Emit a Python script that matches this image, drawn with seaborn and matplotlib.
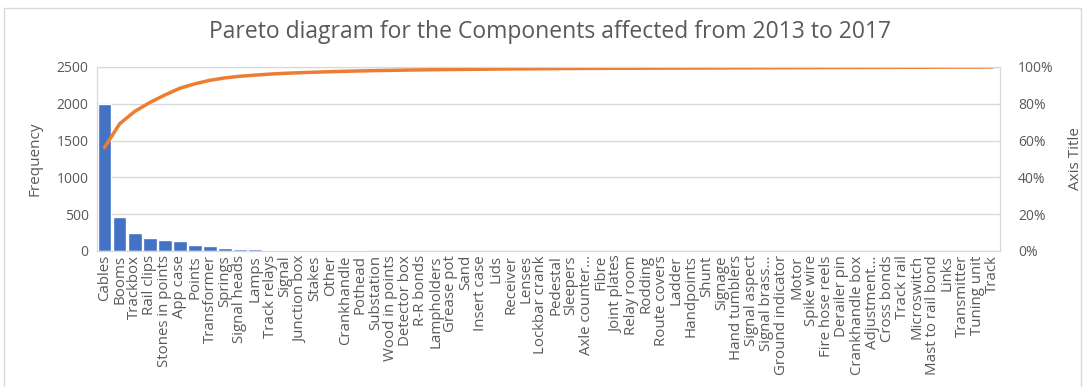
import numpy as np
import pandas as pd
import matplotlib
matplotlib.use("Agg")
import matplotlib.pyplot as plt
import seaborn as sns
from matplotlib.ticker import PercentFormatter

categories = ["Cables", "Booms", "Trackbox", "Rail clips", "Stones in points", "App case",
              "Points", "Transformer", "Springs", "Signal heads", "Lamps", "Track relays",
              "Signal", "Junction box", "Stakes", "Other", "Crankhandle", "Pothead",
              "Substation", "Wood in points", "Detector box", "R-R bonds", "Lampholders",
              "Grease pot", "Sand", "Insert case", "Lids", "Receiver", "Lenses",
              "Lockbar crank", "Pedestal", "Sleepers", "Axle counter...", "Fibre",
              "Joint plates", "Relay room", "Rodding", "Route covers", "Ladder",
              "Handpoints", "Shunt", "Signage", "Hand tumblers", "Signal aspect",
              "Signal brass...", "Ground indicator", "Motor", "Spike wire",
              "Fire hose reels", "Derailer pin", "Crankhandle box", "Adjustment...",
              "Cross bonds", "Track rail", "Microswitch", "Mast to rail bond", "Links",
              "Transmitter", "Tuning unit", "Track"]
frequency = [2000, 458, 240, 172, 145, 132, 86, 68, 46, 32, 22, 20,
             15, 12, 10, 9, 8, 7, 6, 5, 5, 4, 4, 3, 3, 3, 3, 3, 2, 2, 2, 2, 2,
             1, 1, 1, 1, 1, 1, 1, 1, 1, 1, 1, 1, 1, 1, 1, 1, 1, 1, 1, 1, 1, 1, 1, 1, 1, 1, 1]

df = pd.DataFrame({"Component": categories, "Frequency": frequency})
df["Cumulative"] = df["Frequency"].cumsum() / df["Frequency"].sum() * 100

sns.set_style("white")
plt.rcParams["font.family"] = ["Open Sans", "DejaVu Sans"]
text_col = "#595959"
grid_col = "#D9D9D9"

fig = plt.figure(figsize=(10.85, 3.87), dpi=100)
ax = fig.add_axes([97 / 1085, 1 - 251 / 387, (1000 - 97) / 1085, (251 - 67) / 387])

sns.barplot(data=df, x="Component", y="Frequency", color="#4472C4", width=0.92,
            saturation=1, ax=ax, zorder=2)
ax.set_ylim(0, 2500)
ax.set_yticks([0, 500, 1000, 1500, 2000, 2500])
ax.yaxis.grid(True, color=grid_col, linewidth=1, zorder=0)
ax.set_axisbelow(True)
ax.set_xlabel("")
ax.set_ylabel("Frequency", color=text_col, fontsize=11, labelpad=10)
ax.tick_params(axis="x", labelrotation=90, labelsize=10.8, colors=text_col, length=0, pad=3)
ax.tick_params(axis="y", labelsize=10, colors=text_col, length=0, pad=6)
for s in ax.spines.values():
    s.set_color(grid_col)

ax2 = ax.twinx()
sns.lineplot(data=df, x="Component", y="Cumulative", color="#ED7D31", linewidth=2.5,
             sort=False, ax=ax2)
ax2.set_ylim(0, 100)
ax2.set_yticks([0, 20, 40, 60, 80, 100])
ax2.yaxis.set_major_formatter(PercentFormatter(decimals=0))
ax2.set_ylabel("Axis Title", color=text_col, fontsize=11, labelpad=10)
ax2.tick_params(axis="y", labelsize=10, colors=text_col, length=0, pad=13)
for s in ax2.spines.values():
    s.set_color(grid_col)
ax2.set_xlim(-0.5, len(categories) - 0.5)
ax.set_xlim(-0.5, len(categories) - 0.5)

fig.suptitle("Pareto diagram for the Components affected from 2013 to 2017",
             x=550 / 1085, y=1 - 20 / 387, va="top", fontsize=16.5, color=text_col)

border = plt.Rectangle((4 / 1085, -10 / 387), 1 - 8 / 1085, 1 + 2 / 387,
                       transform=fig.transFigure, fill=False, edgecolor=grid_col, linewidth=1)
fig.patches.append(border)

fig.savefig("out.png", dpi=100)
